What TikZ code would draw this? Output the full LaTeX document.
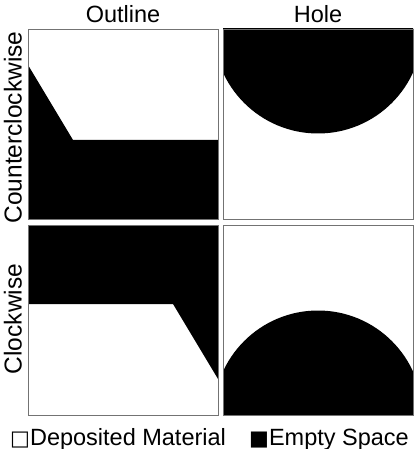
\documentclass[tikz,border=0pt]{standalone}
\usepackage{fontspec}
\setmainfont{Liberation Sans}
\newfontfamily\symbolfont{DejaVu Sans}
\usetikzlibrary{calc}

\begin{document}
\begin{tikzpicture}[x=1pt,y=-1pt]

\colorlet{emptycolor}{black}
\colorlet{depositcolor}{white}
\colorlet{framecolor}{black!55}

\def\panelsize{190}
\def\arcrad{104.5}

\useasboundingbox (0,0) rectangle (417,449);

\coordinate (ccwOutline) at (28,29);
\coordinate (ccwHole) at (223,29);
\coordinate (cwOutline) at (28,225);
\coordinate (cwHole) at (223,225);

% DRAW THE COUNTERCLOCKWISE OUTLINE
\fill[emptycolor] ($(ccwOutline)+(0,36)$) -- ($(ccwOutline)+(45,111)$) -- ($(ccwOutline)+(\panelsize,111)$)
  -- ($(ccwOutline)+(\panelsize,\panelsize)$) -- ($(ccwOutline)+(0,\panelsize)$) -- cycle;
\draw[framecolor] (ccwOutline) rectangle ++(\panelsize,\panelsize);

% DRAW THE CLOCKWISE OUTLINE
\fill[emptycolor] ($(cwOutline)+(\panelsize,154)$) -- ($(cwOutline)+(145,79)$) -- ($(cwOutline)+(0,79)$)
  -- (cwOutline) -- ($(cwOutline)+(\panelsize,0)$) -- cycle;
\draw[framecolor] (cwOutline) rectangle ++(\panelsize,\panelsize);

% DRAW THE COUNTERCLOCKWISE HOLE
\begin{scope}
  \clip (ccwHole) rectangle ++(\panelsize,\panelsize);
  \fill[emptycolor] ($(ccwHole)+(0.5*\panelsize,0)$) circle (\arcrad);
\end{scope}
\draw[framecolor] (ccwHole) rectangle ++(\panelsize,\panelsize);

% DRAW THE CLOCKWISE HOLE
\begin{scope}
  \clip (cwHole) rectangle ++(\panelsize,\panelsize);
  \fill[emptycolor] ($(cwHole)+(0.5*\panelsize,\panelsize)$) circle (\arcrad);
\end{scope}
\draw[framecolor] (cwHole) rectangle ++(\panelsize,\panelsize);

% DRAW THE LABELS
\node[anchor=base,font=\fontsize{23.5}{27}\selectfont] (outlineText) at (123,23) {Outline};
\node[anchor=base,font=\fontsize{23.5}{27}\selectfont] (holeText) at (318,23) {Hole};
\node[anchor=base,rotate=90,font=\fontsize{24.5}{28}\selectfont] (ccwText) at (21.5,127.5) {Counterclockwise};
\node[anchor=base,rotate=90,font=\fontsize{24.5}{28}\selectfont] (cwText) at (21.5,319) {Clockwise};

% DRAW THE LEGEND
\node[anchor=base west,inner sep=0pt,font=\fontsize{23.5}{27}\selectfont] (depositText) at (10,445) {{\symbolfont\fontsize{21}{25}\selectfont □}Deposited Material};
\node[anchor=base west,inner sep=0pt,font=\fontsize{23.5}{27}\selectfont] (emptyText) at (249,445) {{\symbolfont\fontsize{21}{25}\selectfont ■}Empty Space};

\end{tikzpicture}
\end{document}
